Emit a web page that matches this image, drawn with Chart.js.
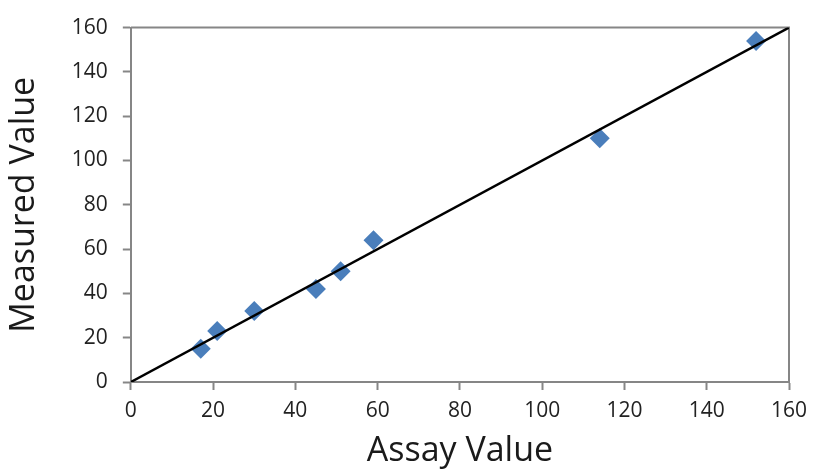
<!DOCTYPE html>
<html>
<head>
<meta charset="utf-8">
<script src="https://cdn.jsdelivr.net/npm/chart.js@4"></script>
<style>
  html, body { margin: 0; padding: 0; background: #fff; }
  #wrap { width: 817px; height: 472px; }
</style>
</head>
<body>
<div id="wrap"><canvas id="assayChart"></canvas></div>
<script>
// values
const assayValues    = [17, 21, 30, 45, 51, 59, 114, 152];
const measuredValues = [15, 23, 32, 42, 50, 64, 110, 154];
const identityLine   = [0, 160];   // y = x reference line ends
const tickValues     = [0, 20, 40, 60, 80, 100, 120, 140, 160];

const axisGray = '#868686';
const markerBlue = '#4a7ebb';
const tickFont = { family: 'Open Sans', size: 21 };

const points = assayValues.map((v, i) => ({ x: v, y: measuredValues[i] }));
const linePts = identityLine.map(v => ({ x: v, y: v }));

// draws the top and right edges so the plot looks boxed like the original
const boxPlugin = {
  id: 'plotBox',
  beforeDatasetsDraw(chart) {
    const a = chart.chartArea;
    const ctx = chart.ctx;
    ctx.save();
    ctx.strokeStyle = axisGray;
    ctx.lineWidth = 2;
    ctx.beginPath();
    ctx.moveTo(a.left, a.top);
    ctx.lineTo(a.right, a.top);
    ctx.lineTo(a.right, a.bottom);
    ctx.stroke();
    ctx.restore();
  }
};

function axisOpts(title, tickPad, titlePad) {
  return {
    type: 'linear',
    min: 0,
    max: 160,
    afterBuildTicks: axis => { axis.ticks = tickValues.map(v => ({ value: v })); },
    border: { display: true, color: axisGray, width: 2 },
    grid: { display: true, drawOnChartArea: false, drawTicks: true, tickLength: 8, tickColor: axisGray, tickWidth: 2 },
    ticks: { color: '#222', font: tickFont, padding: tickPad },
    title: { display: true, text: title, color: '#1a1a1a', font: { family: 'Open Sans', size: 34 }, padding: titlePad }
  };
}

const ctx = document.getElementById('assayChart').getContext('2d');
new Chart(ctx, {
  data: {
    datasets: [
      {
        type: 'scatter',
        label: 'Measured',
        data: points,
        pointStyle: 'rectRot',
        pointRadius: 10,
        pointHoverRadius: 10,
        backgroundColor: markerBlue,
        borderColor: markerBlue,
        borderWidth: 0,
        order: 2
      },
      {
        type: 'line',
        label: 'Identity',
        data: linePts,
        borderColor: '#000',
        borderWidth: 2.5,
        pointRadius: 0,
        fill: false,
        order: 1
      }
    ]
  },
  options: {
    responsive: true,
    maintainAspectRatio: false,
    animation: false,
    layout: { padding: { top: 12, right: 28, bottom: 0, left: 4 } },
    plugins: { legend: { display: false }, tooltip: { enabled: false } },
    scales: {
      x: axisOpts('Assay Value', 8, { top: 0, bottom: 0 }),
      y: axisOpts('Measured Value', 15, { top: 0, bottom: 12 })
    }
  },
  plugins: [boxPlugin]
});
</script>
</body>
</html>
